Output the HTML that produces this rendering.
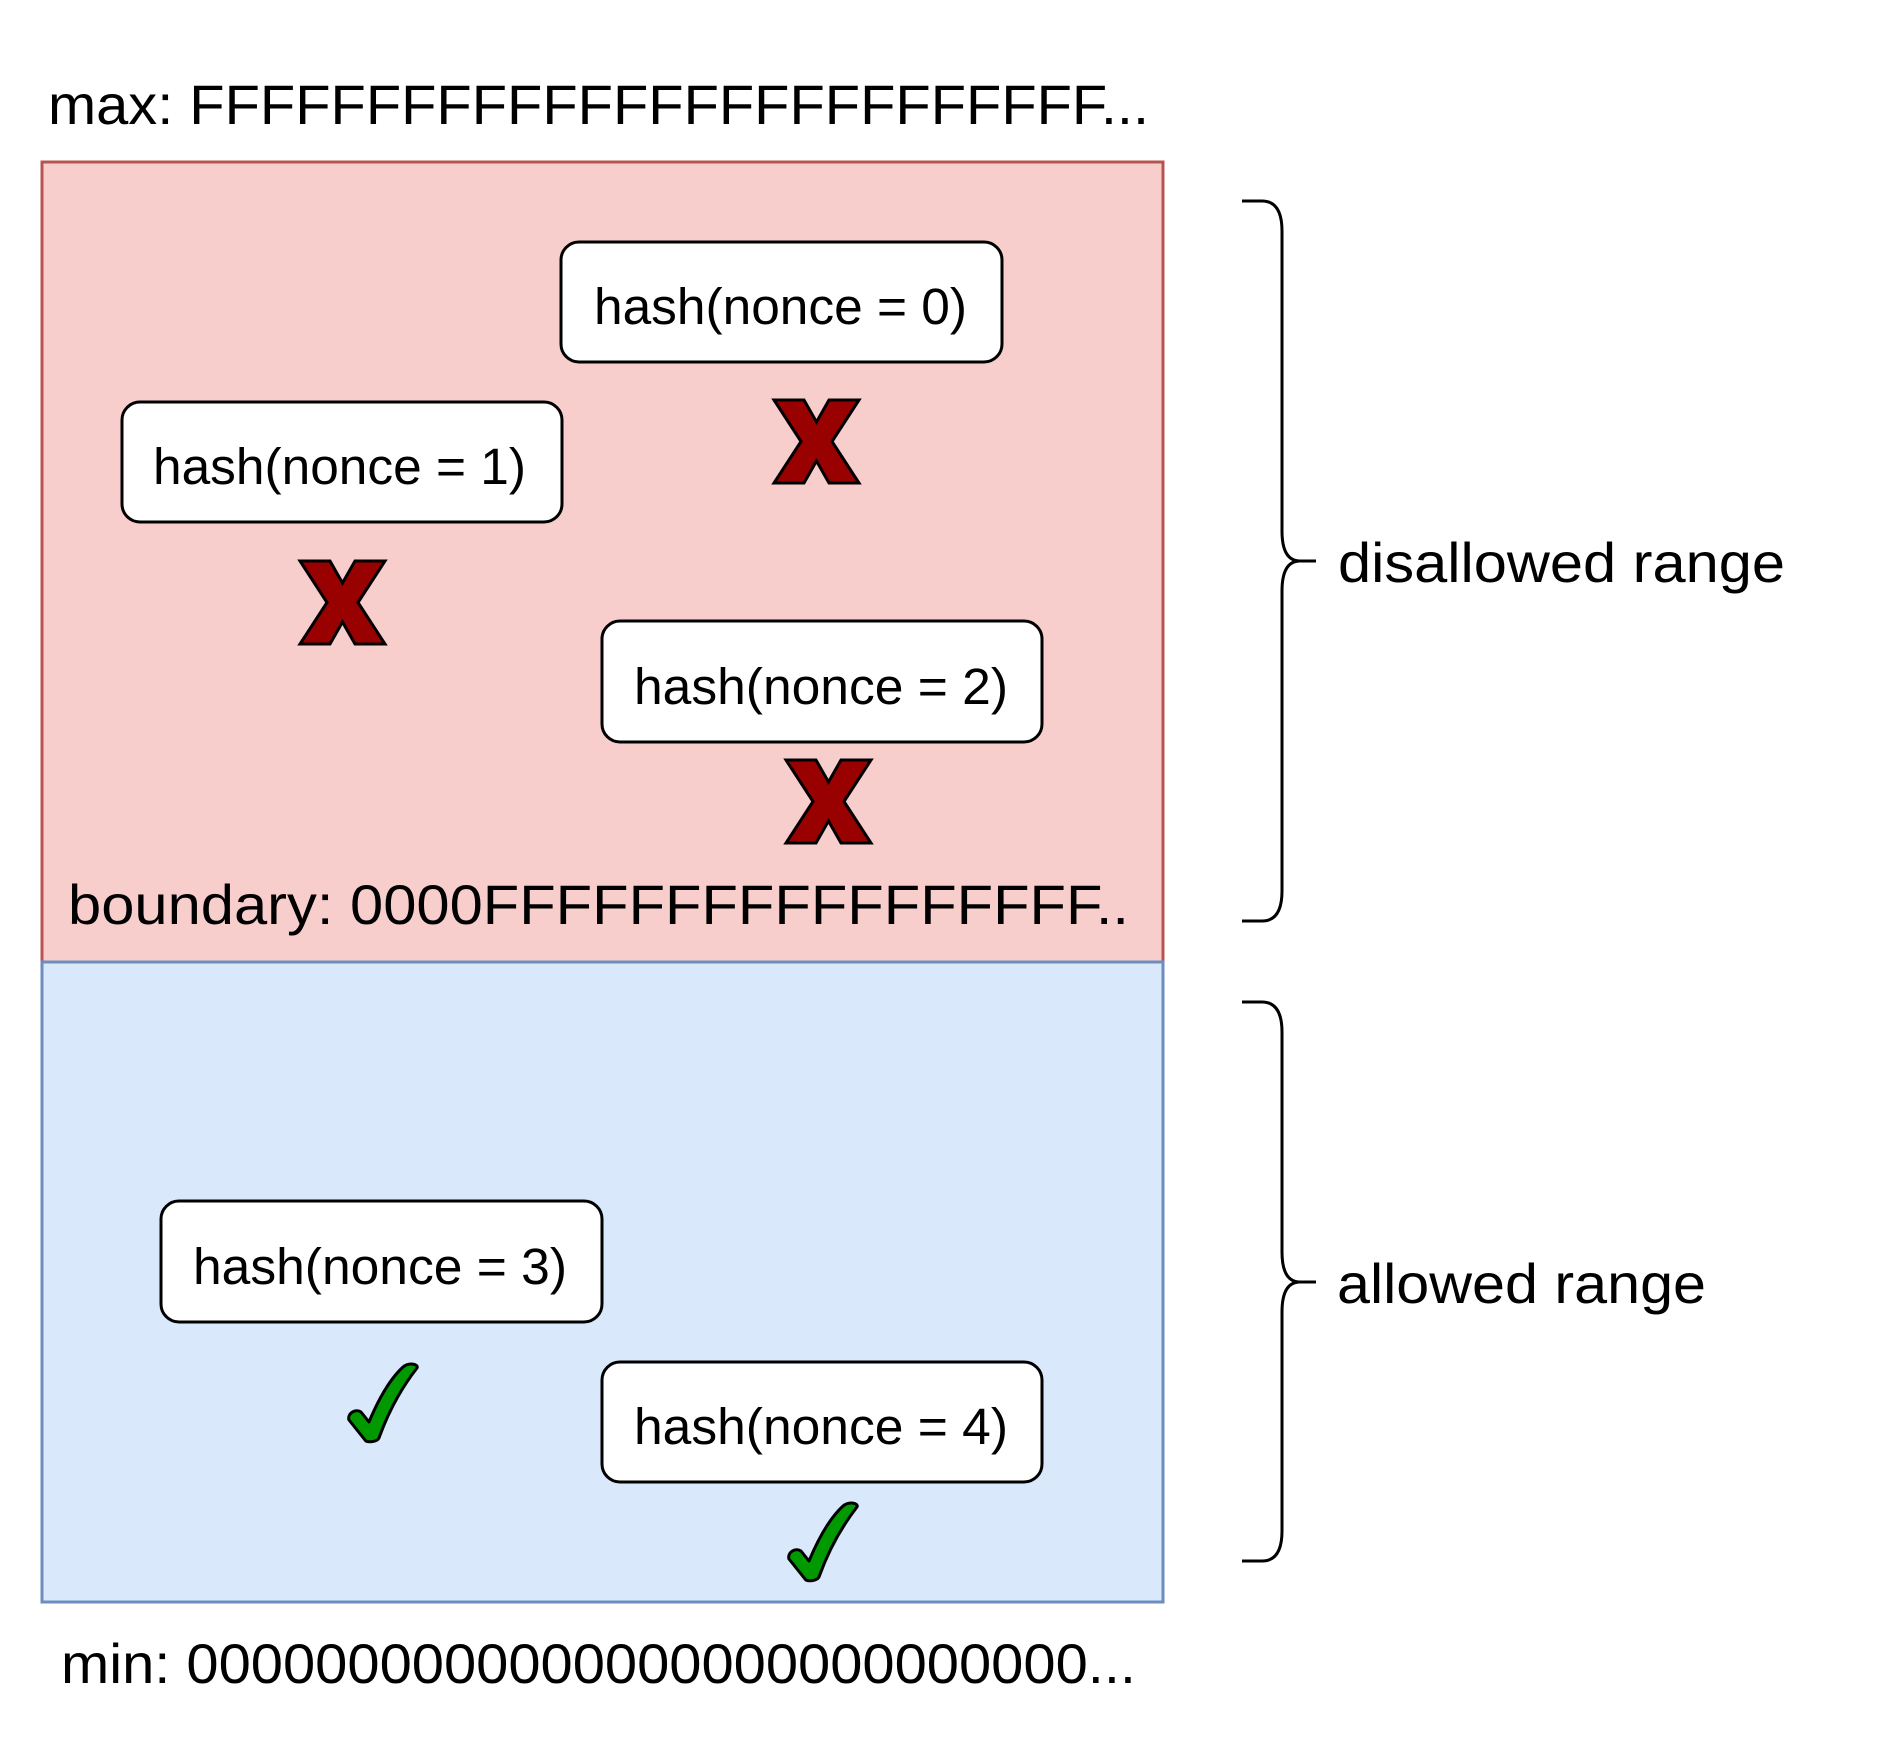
<!DOCTYPE html>
<html><head><meta charset="utf-8"><style>
html,body{margin:0;padding:0;background:#fff;}
svg{display:block;}
text{font-family:"Liberation Sans",sans-serif;fill:#000;}
</style></head><body>
<svg width="1884" height="1764" viewBox="0 0 1884 1764" xmlns="http://www.w3.org/2000/svg">
<rect x="0" y="0" width="1884" height="1764" fill="#fff"/>
<text x="48" y="124" font-size="56" textLength="1101" lengthAdjust="spacingAndGlyphs">max: FFFFFFFFFFFFFFFFFFFFFFFFFF...</text>
<rect x="42" y="162" width="1121" height="800" fill="#f8cecc" stroke="#b85450" stroke-width="3"/>
<rect x="42" y="962" width="1121" height="640" fill="#dae8fc" stroke="#6c8ebf" stroke-width="3"/>
<text x="68" y="924" font-size="56" textLength="1061" lengthAdjust="spacingAndGlyphs">boundary: 0000FFFFFFFFFFFFFFFFF..</text>
<text x="61" y="1683" font-size="56" textLength="1075" lengthAdjust="spacingAndGlyphs">min: 0000000000000000000000000000...</text>

<g fill="#fff" stroke="#000" stroke-width="3">
<rect x="561" y="242" width="441" height="120" rx="18"/>
<rect x="122" y="402" width="440" height="120" rx="18"/>
<rect x="602" y="621" width="440" height="121" rx="18"/>
<rect x="161" y="1201" width="441" height="121" rx="18"/>
<rect x="602" y="1362" width="440" height="120" rx="18"/>
</g>
<g font-size="51">
<text x="594" y="324" textLength="373" lengthAdjust="spacingAndGlyphs">hash(nonce = 0)</text>
<text x="153" y="484" textLength="373" lengthAdjust="spacingAndGlyphs">hash(nonce = 1)</text>
<text x="634" y="704" textLength="374" lengthAdjust="spacingAndGlyphs">hash(nonce = 2)</text>
<text x="193" y="1284" textLength="374" lengthAdjust="spacingAndGlyphs">hash(nonce = 3)</text>
<text x="634" y="1444" textLength="374" lengthAdjust="spacingAndGlyphs">hash(nonce = 4)</text>
</g>

<defs>
<polygon id="xm" points="0,0 30,0 42.5,22 55,0 85,0 58,41.5 85,83 55,83 42.5,61 30,83 0,83 27,41.5" fill="#990000" stroke="#000" stroke-width="3" stroke-linejoin="miter"/>
<path id="ck" d="M2,58 C0,52 8,46 14,50 L22,60 C32,36 44,16 56,5 C62,0 72,2 70,6 C56,24 42,48 32,76 C30,80 20,81 18,78 Z" fill="#009900" stroke="#000" stroke-width="3" stroke-linejoin="round"/>
</defs>
<use href="#xm" x="774" y="400"/>
<use href="#xm" x="300" y="561"/>
<use href="#xm" x="786" y="760"/>
<use href="#ck" x="347" y="1362"/>
<use href="#ck" x="787" y="1501"/>

<g fill="none" stroke="#000" stroke-width="3">
<path d="M1242,201 L1262,201 Q1282,201 1282,231 L1282,531 Q1282,561 1300,561 L1316,561 M1300,561 Q1282,561 1282,591 L1282,891 Q1282,921 1262,921 L1242,921"/>
<path d="M1242,1002 L1262,1002 Q1282,1002 1282,1032 L1282,1252 Q1282,1282 1300,1282 L1316,1282 M1300,1282 Q1282,1282 1282,1312 L1282,1531 Q1282,1561 1262,1561 L1242,1561"/>
</g>
<text x="1338" y="582" font-size="56" textLength="447" lengthAdjust="spacingAndGlyphs">disallowed range</text>
<text x="1337" y="1303" font-size="56" textLength="369" lengthAdjust="spacingAndGlyphs">allowed range</text>
</svg>
</body></html>
